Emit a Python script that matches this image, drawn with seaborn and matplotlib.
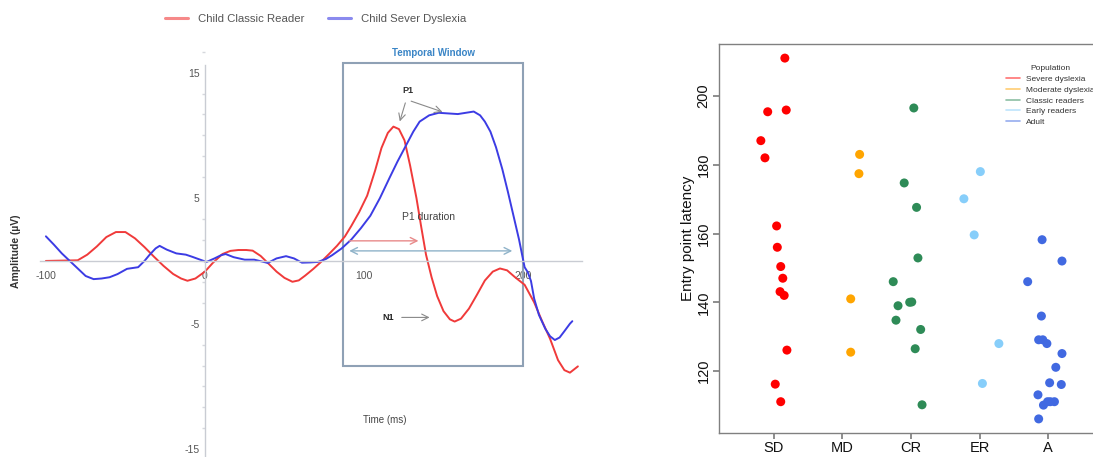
import matplotlib
matplotlib.use("Agg")
import matplotlib.pyplot as plt
from matplotlib.patches import Rectangle
from matplotlib.lines import Line2D
from matplotlib.ticker import MultipleLocator
import pandas as pd
import seaborn as sns

# ---- left panel: ERP traces ----
time_red = [-100, -80, -74, -68, -62, -56, -50, -44, -38, -32, -26, -20, -15, -11, -6, 0, 5,
            11, 16, 21, 26, 30, 35, 40, 45, 50, 55, 59, 63, 68, 73, 78, 83, 88, 92, 97, 102,
            107, 111, 115, 118.5, 122, 125.5, 129, 133, 136, 139, 142.5, 146, 150, 154, 157,
            161, 166, 171, 176, 181, 185.5, 190, 195, 201, 207, 212, 217, 222, 226, 229.5, 234.5]
amp_red = [0, 0.05, 0.5, 1.15, 1.9, 2.3, 2.3, 1.8, 1.1, 0.33, -0.4, -1.04, -1.4, -1.58, -1.4,
           -0.85, -0.15, 0.55, 0.8, 0.87, 0.87, 0.82, 0.4, -0.22, -0.85, -1.35, -1.66, -1.55,
           -1.17, -0.65, -0.08, 0.55, 1.2, 1.95, 2.78, 3.9, 5.2, 7.2, 9.0, 10.2, 10.7, 10.5,
           9.6, 7.6, 5.0, 2.7, 0.5, -1.3, -2.8, -4.0, -4.65, -4.83, -4.6, -3.8, -2.7, -1.56,
           -0.85, -0.6, -0.75, -1.3, -1.9, -3.3, -4.8, -6.2, -7.9, -8.7, -8.9, -8.4]

time_blue = [-100, -95, -90, -85, -80, -75, -70, -65, -60, -55, -49, -42, -38, -35, -31, -28.5,
             -24, -18, -12, -8, -3, 1, 6, 10, 13, 18, 25, 31, 36, 39.5, 45, 51, 56, 61, 66, 71,
             76, 80, 86, 92, 98, 104, 110, 116, 121, 126, 131, 135, 141, 147, 153, 159, 164,
             169, 173, 176, 179.5, 183, 187, 190.5, 194, 197.5, 201, 203, 205, 207, 210, 214,
             217, 220, 223, 226, 229.5, 231]
amp_blue = [1.96, 1.3, 0.6, 0, -0.6, -1.2, -1.45, -1.4, -1.3, -1.05, -0.63, -0.5, 0.0, 0.46,
            1.0, 1.2, 0.9, 0.6, 0.5, 0.33, 0.1, -0.08, 0.2, 0.45, 0.55, 0.3, 0.1, 0.1, -0.05,
            -0.16, 0.2, 0.38, 0.2, -0.14, -0.12, -0.08, 0.15, 0.46, 1.0, 1.7, 2.6, 3.6, 5.0,
            6.6, 7.9, 9.1, 10.3, 11.1, 11.6, 11.8, 11.75, 11.7, 11.8, 11.9, 11.6, 11.1, 10.3,
            9.06, 7.3, 5.5, 3.6, 1.7, -0.5, -0.9, -1.6, -3.0, -4.3, -5.4, -6.0, -6.3, -6.1,
            -5.6, -5.0, -4.8]

erp_labels = ["Child Classic Reader", "Child Sever Dyslexia"]
win_start, win_end = 87, 200
win_low, win_high = -8.4, 15.8

# ---- right panel: entry point latency per population ----
pop_codes = ["SD", "MD", "CR", "ER", "A"]
pop_names = ["Severe dyslexia", "Moderate dyslexia", "Classic readers", "Early readers", "Adult"]

lat_sd = [211.0, 195.4, 195.9, 187.0, 182.0, 162.2, 156.0, 150.4, 147.0, 143.1, 142.0, 126.1, 116.2, 111.1]
jit_sd = [0.16, -0.09, 0.18, -0.19, -0.13, 0.04, 0.05, 0.10, 0.13, 0.09, 0.15, 0.19, 0.02, 0.10]
lat_md = [183.0, 177.4, 141.0, 125.5]
jit_md = [0.25, 0.24, 0.12, 0.12]
lat_cr = [196.5, 174.7, 167.6, 152.9, 146.0, 139.0, 140.0, 140.1, 134.8, 132.1, 126.5, 110.2]
jit_cr = [0.04, -0.10, 0.08, 0.10, -0.26, -0.19, -0.02, 0.01, -0.22, 0.14, 0.06, 0.16]
lat_er = [178.0, 170.1, 159.6, 128.0, 116.4]
jit_er = [0.01, -0.23, -0.08, 0.28, 0.04]
lat_a = [158.2, 152.0, 146.0, 136.0, 129.1, 129.1, 128.0, 125.1, 121.1, 116.6, 116.1,
         113.1, 110.1, 111.1, 111.1, 111.1, 106.1]
jit_a = [-0.09, 0.20, -0.30, -0.10, -0.14, -0.08, -0.02, 0.20, 0.11, 0.02, 0.19,
         -0.15, -0.07, -0.01, 0.03, 0.09, -0.14]

sns.set_theme(style="white")
plt.rcParams["font.family"] = ["Liberation Sans", "DejaVu Sans"]
plt.rcParams["axes.unicode_minus"] = False

fig = plt.figure(figsize=(10.93, 4.57), dpi=100)

# ================= left panel =================
axL = fig.add_axes([30 / 1093, 2 / 457, 570 / 1093, 415 / 457])
erp = pd.concat([
    pd.DataFrame({"time": time_red, "amp": amp_red, "group": erp_labels[0]}),
    pd.DataFrame({"time": time_blue, "amp": amp_blue, "group": erp_labels[1]}),
])
sns.lineplot(data=erp, x="time", y="amp", hue="group", estimator=None, sort=False,
             palette={erp_labels[0]: "#f03a3a", erp_labels[1]: "#3c3ce4"},
             linewidth=1.4, ax=axL)
axL.set_xlim(-110, 248.4)
axL.set_ylim(-15.46, 17.6)
axL.set_xlabel("")
axL.set_ylabel("")

for s in ["top", "right"]:
    axL.spines[s].set_visible(False)
axL.spines["left"].set_position(("data", 0))
axL.spines["bottom"].set_position(("data", 0))
axL.spines["left"].set_bounds(-15.5, 15.6)
axL.spines["bottom"].set_bounds(-104, 237)
for s in ["left", "bottom"]:
    axL.spines[s].set_color("#c9ccd3")
    axL.spines[s].set_linewidth(1.0)

axL.set_yticks([15, 5, -5, -15])
axL.yaxis.set_minor_locator(MultipleLocator(5 / 3))
axL.tick_params(axis="y", which="major", length=3, color="#c9ccd3", labelsize=7.5,
                labelcolor="#555555", pad=1)
axL.tick_params(axis="y", which="minor", length=2, color="#d6d8dd", left=True)
axL.set_xticks([-100, 0, 100, 200])
axL.tick_params(axis="x", length=0, labelsize=7.5, labelcolor="#555555", pad=7)

axL.add_patch(Rectangle((win_start, win_low), win_end - win_start, win_high - win_low,
                        fill=False, ec="#8fa1b5", lw=1.5, zorder=1))
axL.text((win_start + win_end) / 2, 16.6, "Temporal Window", color="#3a85c6",
         fontsize=7, fontweight="bold", ha="center", va="center")

axL.text(127.5, 13.6, "P1", fontsize=6.5, fontweight="bold", color="#333333",
         ha="center", va="center")
arrow_gray = dict(arrowstyle="->", color="#8a8a8a", lw=0.8)
axL.annotate("", xy=(122, 10.9), xytext=(126.5, 12.8), arrowprops=arrow_gray)
axL.annotate("", xy=(151, 11.8), xytext=(128, 12.8), arrowprops=arrow_gray)

axL.text(124, 3.5, "P1 duration", fontsize=7.5, color="#444444", ha="left", va="center")
axL.annotate("", xy=(136, 1.6), xytext=(89, 1.6),
             arrowprops=dict(arrowstyle="->", color="#e88a8a", lw=1.0))
axL.annotate("", xy=(195, 0.8), xytext=(89, 0.8),
             arrowprops=dict(arrowstyle="<->", color="#8fb3c9", lw=1.0))

axL.text(115, -4.5, "N1", fontsize=6.5, fontweight="bold", color="#222222",
         ha="center", va="center")
axL.annotate("", xy=(143, -4.5), xytext=(122, -4.5), arrowprops=arrow_gray)

axL.text(113, -12.7, "Time (ms)", fontsize=7, color="#444444", ha="center", va="center")
fig.text(16 / 1093, 1 - 251 / 457, "Amplitude (µV)", rotation=90, fontsize=7.5,
         fontweight="bold", color="#333333", ha="center", va="center")

handles, labels = axL.get_legend_handles_labels()
axL.get_legend().remove()
legL = fig.legend(handles, labels, loc="center left", bbox_to_anchor=(165 / 1093, 1 - 19 / 457),
                  ncol=2, frameon=False, fontsize=8.2, handlelength=2.0, handletextpad=0.9,
                  columnspacing=2.1, borderpad=0, borderaxespad=0)
for t in legL.get_texts():
    t.set_color("#555555")
for ln in legL.get_lines():
    ln.set_alpha(0.6)
    ln.set_linewidth(2.2)

# ================= right panel =================
axR = fig.add_axes([719 / 1093, 24 / 457, 391 / 1093, 389 / 457])
lat_groups = [lat_sd, lat_md, lat_cr, lat_er, lat_a]
jit_groups = [jit_sd, jit_md, jit_cr, jit_er, jit_a]
frames = []
for i, (lat, jit) in enumerate(zip(lat_groups, jit_groups)):
    frames.append(pd.DataFrame({"pos": [i + j for j in jit], "latency": lat,
                                "population": pop_names[i]}))
pop = pd.concat(frames)
pop_colors = ["#ff0000", "#ffa500", "#2e8b57", "#87cefa", "#4169e1"]
sns.scatterplot(data=pop, x="pos", y="latency", hue="population",
                palette=dict(zip(pop_names, pop_colors)), s=42, linewidth=0,
                legend=False, ax=axR)
axR.set_xlim(-0.8, 4.9)
axR.set_ylim(102, 215.1)
axR.set_xticks(range(len(pop_codes)))
axR.set_xticklabels(pop_codes)
axR.set_yticks([120, 140, 160, 180, 200])
axR.set_xlabel("")
axR.set_ylabel("Entry point latency", fontsize=11, color="#111111", labelpad=1)
axR.spines["right"].set_visible(False)
for s in ["top", "left", "bottom"]:
    axR.spines[s].set_color("#808080")
    axR.spines[s].set_linewidth(1.0)
axR.tick_params(axis="both", length=4, color="#808080", labelsize=10.5,
                labelcolor="#111111", pad=2, bottom=True, left=True)
for lab in axR.get_yticklabels():
    lab.set_rotation(90)
    lab.set_va("center")

leg_handles = [Line2D([], [], color=c, lw=1.2, alpha=0.55) for c in pop_colors]
legR = axR.legend(leg_handles, pop_names, title="Population", loc="upper left",
                  bbox_to_anchor=(0.735, 0.945), frameon=False, fontsize=6,
                  title_fontsize=6, handlelength=1.6, handletextpad=0.8,
                  labelspacing=0.35, borderpad=0, borderaxespad=0)
for t in legR.get_texts():
    t.set_color("#333333")
legR.get_title().set_color("#333333")

fig.savefig("out.png", dpi=100)
